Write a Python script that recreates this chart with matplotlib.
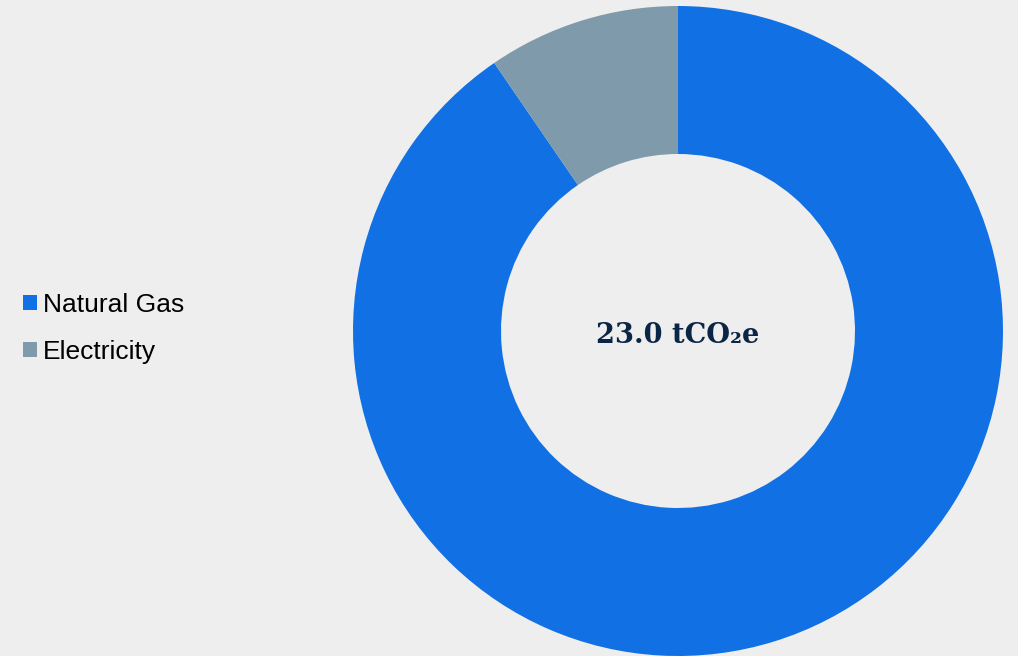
import matplotlib
matplotlib.use("Agg")
import matplotlib.pyplot as plt
from matplotlib.patches import Patch

categories = ["Natural Gas", "Electricity"]
values = [20.8, 2.2]
colors = ["#1170e4", "#7f9aab"]
total_label = "23.0 tCO₂e"

W, H = 1018, 656
fig = plt.figure(figsize=(W / 100, H / 100), dpi=100, facecolor="#eeeeee")
R = 325
cx, cy = 678, 331
ax = fig.add_axes([(cx - R) / W, (H - cy - R) / H, 2 * R / W, 2 * R / H])
ax.set_facecolor("#eeeeee")
ax.pie(values, colors=colors, startangle=90, counterclock=False, radius=1,
       wedgeprops=dict(width=1 - 177 / 325, edgecolor="none", linewidth=0))
ax.set_xlim(-1, 1)
ax.set_ylim(-1, 1)
ax.set_aspect("equal")
ax.axis("off")
ax.text(0, -0.015, total_label, ha="center", va="center", fontsize=19.6,
        fontweight="bold", family="DejaVu Serif", color="#0b2545")

handles = [Patch(facecolor=c, edgecolor="none") for c in colors]
fig.legend(handles, categories, loc="center left",
           bbox_to_anchor=(23 / W, 1 - 328.5 / H), frameon=False,
           prop={"family": "Liberation Sans", "size": 19},
           handlelength=0.52, handleheight=0.52, handletextpad=0.24,
           labelspacing=0.86, borderpad=0, borderaxespad=0)

fig.savefig("out.png", dpi=100, facecolor="#eeeeee")
